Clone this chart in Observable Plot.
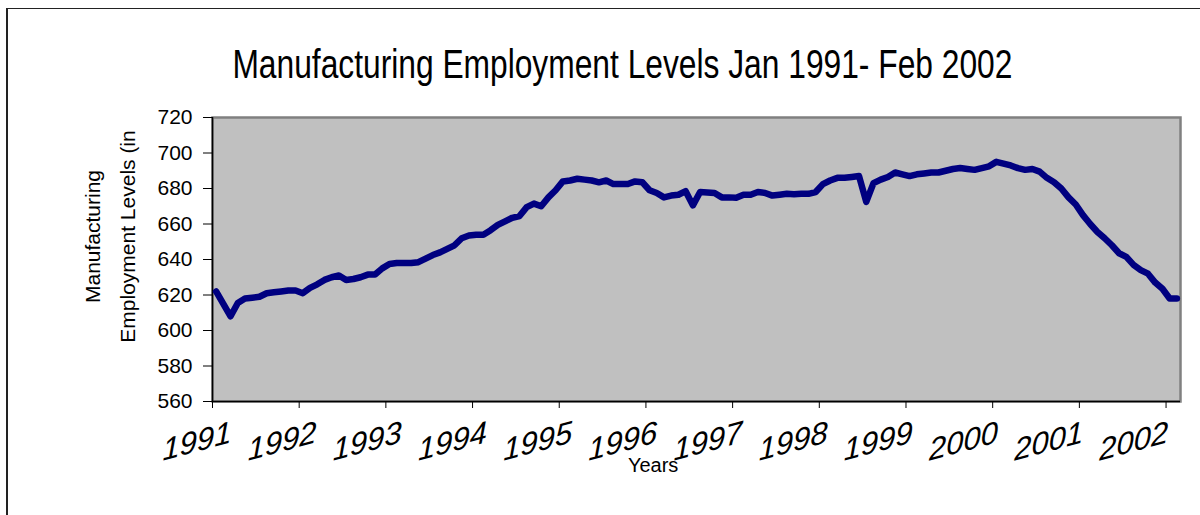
<!DOCTYPE html>
<html>
<head>
<meta charset="utf-8">
<script src="https://cdn.jsdelivr.net/npm/d3@7"></script>
<script src="https://cdn.jsdelivr.net/npm/@observablehq/plot@0.6"></script>
<style>
  html, body { margin: 0; padding: 0; background: #ffffff; }
  #wrap { position: relative; width: 1200px; height: 515px; overflow: hidden; font-family: "Liberation Sans", Arial, sans-serif; }
  #frame { position: absolute; left: 6px; top: 8px; width: 1300px; height: 700px; border-left: 2px solid #222; border-top: 1.5px solid #222; }
  #title { position: absolute; left: 0; top: 44px; width: 1244px; text-align: center; line-height: 40px; color: #000; white-space: nowrap; }
  #title span { display: inline-block; font-size: 40px; transform-origin: 50% 50%; }
  #chart { position: absolute; left: 0; top: 100px; }
</style>
</head>
<body>
<div id="wrap">
  <div id="frame"></div>
  <div id="title"><span>Manufacturing Employment Levels Jan 1991- Feb 2002</span></div>
  <div id="chart"></div>
</div>
<script>
// Monthly manufacturing employment levels, Jan 1991 .. Feb 2002
const values = [
  622, 615, 608, 615.5, 618, 618.5, 619, 621, 621.5, 622, 622.5, 622.5,      // 1991
  621, 624, 626, 628.5, 630, 631, 628.5, 629, 630, 631.5, 631.5, 635,        // 1992
  637.5, 638, 638, 638, 638.5, 640.5, 642.5, 644, 646, 648, 652, 653.5,      // 1993
  654, 654, 656.5, 659.5, 661.5, 663.5, 664.5, 669.5, 671.5, 670, 675, 679,  // 1994
  684, 684.5, 685.5, 685, 684.5, 683.5, 684.5, 682.5, 682.5, 682.5, 684, 683.5, // 1995
  679, 677.5, 675, 676, 676.5, 678.5, 670.5, 678, 677.8, 677.5, 675, 675,    // 1996
  674.8, 676.5, 676.5, 678, 677.5, 676, 676.5, 677, 676.8, 677, 677, 678,    // 1997
  682.5, 684.5, 686, 686, 686.5, 687, 672.5, 683, 685, 686.5, 689, 688,      // 1998
  687, 688, 688.5, 689, 689, 690, 691, 691.5, 691, 690.5, 691.5, 692.5,      // 1999
  695, 694, 693, 691.5, 690.5, 691, 689.5, 686, 683.5, 680, 675, 671,        // 2000
  665, 660, 655.5, 652, 648, 643.5, 641.5, 637, 634, 632, 627, 623.5,        // 2001
  618, 618                                                                   // 2002
];
const yearLabels = ["1991","1992","1993","1994","1995","1996","1997","1998","1999","2000","2001","2002"];
const yTicks = [560, 580, 600, 620, 640, 660, 680, 700, 720];
const yTitleLines = ["Manufacturing", "Employment Levels (in"];
const xTitle = "Years";

const yearTickIdx = yearLabels.map((d, k) => k * 12 - 0.5);
// labels sit slightly left of their ticks, as in the original
const yearLabelIdx = yearLabels.map((d, k) => k * 12 - 0.5 - (2.15 + 0.21 * k));

const chart = Plot.plot({
  width: 1200,
  height: 415,
  marginLeft: 212,
  marginRight: 20,
  marginTop: 17,
  marginBottom: 114,
  style: { fontFamily: "'Liberation Sans', Arial, sans-serif", fontSize: "21px", color: "#000", background: "transparent", overflow: "visible" },
  x: { domain: [-0.5, 133.5], axis: null },
  y: { domain: [560, 720], axis: null },
  marks: [
    Plot.frame({ fill: "#c0c0c0", stroke: "#808080", strokeWidth: 2.5 }),
    Plot.ruleX([-0.5], { stroke: "#000", strokeWidth: 1.5 }),
    Plot.ruleY([560], { stroke: "#000", strokeWidth: 1.5 }),
    Plot.axisY(yTicks, { tickSize: 9, tickPadding: 11, fontSize: 21, tickFormat: d => String(d), label: null, stroke: "#000" }),
    Plot.axisX(yearTickIdx, { tickSize: 7, tickFormat: () => "", label: null, stroke: "#000" }),
    Plot.line(values, { x: (d, i) => i, y: d => d, stroke: "#000080", strokeWidth: 6.5, strokeLinejoin: "round", strokeLinecap: "round" }),
    Plot.text(yearLabels, { x: (d, k) => yearLabelIdx[k], y: () => 560, dy: 40, text: d => d, rotate: -15, fontSize: 31, fontStyle: "italic", fill: "#000", className: "yearlab" }),
    Plot.text([xTitle], { x: () => 60.5, y: () => 560, dy: 64, text: d => d, fontSize: 20, fill: "#000" }),
    Plot.text(yTitleLines, { frameAnchor: "left", textAnchor: "middle", dx: -119, dy: -23, rotate: -90, text: d => d, fontSize: 21, fill: "#000", filter: (d, i) => i === 0 }),
    Plot.text(yTitleLines, { frameAnchor: "left", textAnchor: "middle", dx: -84, dy: -23, rotate: -90, text: d => d, fontSize: 21, fill: "#000", filter: (d, i) => i === 1 })
  ]
});
document.getElementById("chart").appendChild(chart);

// year labels: skew instead of rotate so the glyphs stay upright along a rising baseline
chart.querySelectorAll(".yearlab text").forEach(t => {
  const tr = t.getAttribute("transform");
  if (tr) t.setAttribute("transform", tr.replace(/rotate\(([^)]*)\)/, "skewY($1)"));
});

// condensed title: fit to the original width
const span = document.querySelector("#title span");
const w = span.getBoundingClientRect().width;
span.style.transform = `scaleX(${780 / w})`;
</script>
</body>
</html>
